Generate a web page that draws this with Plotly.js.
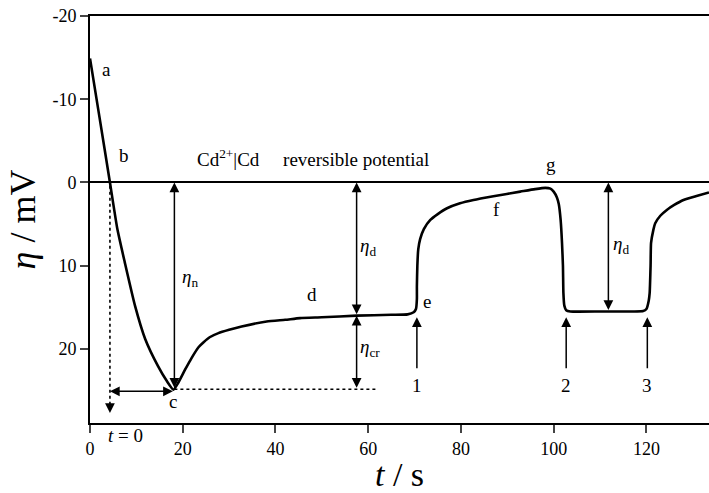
<!DOCTYPE html>
<html>
<head>
<meta charset="utf-8">
<script src="https://cdn.plot.ly/plotly-3.0.1.min.js"></script>
<style>html,body{margin:0;padding:0;background:#fff;}#chart{width:709px;height:493px;}</style>
</head>
<body>
<div id="chart"></div>
<script>
// Overpotential transient (t in s, eta in mV)
var timeS = [0, 2, 4.3, 5.9, 7.5, 9.7, 11.9, 14.7, 16.5, 18.0,
  19.0, 20.5, 21.9, 23.4, 24.5, 25.8, 27.7, 30.0, 32.7, 38.1, 42.1, 45.3, 50, 57.5, 65, 68.5, 69.8, 70.3,
  70.5, 70.5, 70.6, 70.8, 71.2, 72.0, 73.4, 75.0, 77.0, 79.8, 82.7, 87.0, 92.8, 96.0, 98.2, 99.3, 100.0,
  100.7, 101.1, 101.5, 101.8, 102.0, 102.1, 102.3, 102.7, 103.6, 110, 119.3, 120.0, 120.5, 120.7,
  120.9, 121.0, 121.5, 121.9, 123.0, 124.4, 126.0, 128.0, 131.0, 133.5];
var etaMV = [-14.9, -8.0, 0, 5.6, 9.6, 14.8, 18.8, 22.1, 23.8, 24.9,
  24.1, 22.5, 21.1, 19.8, 19.2, 18.6, 18.1, 17.7, 17.3, 16.7, 16.5, 16.3, 16.2, 16.0, 15.9, 15.85, 15.6, 15.2,
  14.0, 12.5, 10.0, 8.0, 6.8, 5.6, 4.5, 3.8, 3.1, 2.5, 2.1, 1.65, 1.1, 0.8, 0.65, 0.75, 1.1,
  1.8, 2.6, 4.5, 7.3, 10.0, 13.3, 14.8, 15.35, 15.5, 15.5, 15.45, 15.2, 14.2, 13.3,
  10.0, 7.3, 5.7, 4.9, 4.0, 3.3, 2.7, 2.1, 1.6, 1.2];

// Tick values and labels
var xTicks = [0, 20, 40, 60, 80, 100, 120];
var xTickText = ['0', '20', '40', '60', '80', '100', '120'];
var yTicks = [-20, -10, 0, 10, 20];
var yTickText = ['-20', '-10', '0', '10', '20'];

// Point labels
var labelText = ['a', 'b', 'c', 'd', 'e', 'f', 'g'];
var labelT = [3.6, 7.4, 17.8, 47.8, 72.6, 87.6, 99.4];
var labelEta = [-13.6, -3.2, 26.3, 13.5, 14.3, 3.2, -2.1];

// Switching arrows 1,2,3
var switchText = ['1', '2', '3'];
var switchT = [70.5, 102.7, 120.2];
var switchTail = 22.5;
var switchHead = 16.2;
var switchLabelEta = 24.4;

// Key levels
var tZero = 4.3;       // t = 0
var tMin = 18.2;       // point c
var etaMin = 24.85;
var etaCr = 16.0;
var etaPlateau2 = 15.5;
var tArrowD1 = 57.5;
var tArrowD2 = 111.8;
var tDotEnd = 62.1;
var etaDotBottom = 27.7;

var serif = 'Liberation Serif, Times New Roman, serif';

var traces = [
  {x: timeS, y: etaMV, mode: 'lines', line: {color: '#000', width: 2.6, shape: 'spline', smoothing: 0.5}, hoverinfo: 'skip'},
  {x: [tMin, tDotEnd], y: [etaMin, etaMin], mode: 'lines', line: {color: '#000', width: 1.6, dash: 'dot'}, hoverinfo: 'skip'},
  {x: [tZero, tZero], y: [0.4, etaDotBottom - 0.8], mode: 'lines', line: {color: '#000', width: 1.6, dash: 'dot'}, hoverinfo: 'skip'}
];

var ann = [];
function arrow(x, y, ax, ay, side) {
  ann.push({x: x, y: y, ax: ax, ay: ay, xref: 'x', yref: 'y', axref: 'x', ayref: 'y',
    text: '', showarrow: true, arrowhead: 2, startarrowhead: 2, arrowsize: 1.3, startarrowsize: 1.3,
    arrowwidth: 1.5, arrowcolor: '#000', arrowside: side || 'end', standoff: 0, startstandoff: 0});
}
function label(x, y, txt, size, xanchor, yref) {
  ann.push({x: x, y: y, xref: 'x', yref: yref || 'y', text: txt, showarrow: false,
    xanchor: xanchor || 'center', yanchor: 'middle', font: {family: serif, size: size || 19, color: '#000'}});
}

// eta_n
arrow(tMin, 0, tMin, etaMin, 'end+start');
// eta_d (first)
arrow(tArrowD1, 0, tArrowD1, etaCr, 'end+start');
// eta_cr
arrow(tArrowD1, etaCr, tArrowD1, etaMin, 'end+start');
// eta_d (second)
arrow(tArrowD2, 0, tArrowD2, etaPlateau2, 'end+start');
// horizontal time arrow
arrow(tZero, 25.1, tMin, 25.1, 'end+start');
// dotted vertical arrow head
arrow(tZero, etaDotBottom, tZero, etaDotBottom - 1.2, 'end');
// switching arrows
for (var i = 0; i < switchT.length; i++) {
  arrow(switchT[i], switchHead, switchT[i], switchTail, 'end');
  label(switchT[i], switchLabelEta, switchText[i], 19);
}
for (var j = 0; j < labelText.length; j++) label(labelT[j], labelEta[j], labelText[j], 19);

label(21.6, 11.5, '<i>η</i><sub>n</sub>', 19, 'center');
label(60.0, 7.7, '<i>η</i><sub>d</sub>', 19, 'center');
label(60.4, 19.9, '<i>η</i><sub>cr</sub>', 19, 'center');
label(114.6, 7.5, '<i>η</i><sub>d</sub>', 19, 'center');
label(22.6, -2.9, 'Cd<sup>2+</sup>|Cd\u00a0\u00a0\u00a0\u00a0\u00a0reversible potential', 19, 'left');
ann.push({x: 7.6, y: -0.03, xref: 'x', yref: 'paper', text: '<i>t</i> = 0', showarrow: false,
  xanchor: 'center', yanchor: 'middle', font: {family: serif, size: 19, color: '#000'}});

var layout = {
  width: 709, height: 493,
  margin: {l: 90, r: 0, t: 16, b: 70},
  paper_bgcolor: '#fff', plot_bgcolor: '#fff',
  showlegend: false,
  font: {family: serif, color: '#000'},
  xaxis: {
    range: [0, 133.5], tickvals: xTicks, ticktext: xTickText, ticks: 'outside', ticklen: 8, tickwidth: 2,
    showline: true, linewidth: 2, linecolor: '#000', mirror: true, showgrid: false, zeroline: false,
    tickfont: {family: serif, size: 18, color: '#000'},
    title: {text: '<i>t</i> / s', font: {family: serif, size: 34, color: '#000'}, standoff: 17}
  },
  yaxis: {
    range: [28.9, -20], tickvals: yTicks, ticktext: yTickText, ticks: 'outside', ticklen: 8, tickwidth: 2,
    showline: true, linewidth: 2, linecolor: '#000', showgrid: false,
    zeroline: true, zerolinecolor: '#000', zerolinewidth: 2,
    tickfont: {family: serif, size: 18, color: '#000'},
    title: {text: '<i>η</i> / mV', font: {family: serif, size: 36, color: '#000'}, standoff: 6}
  },
  annotations: ann
};

Plotly.newPlot('chart', traces, layout, {displayModeBar: false, staticPlot: true});
</script>
</body>
</html>
